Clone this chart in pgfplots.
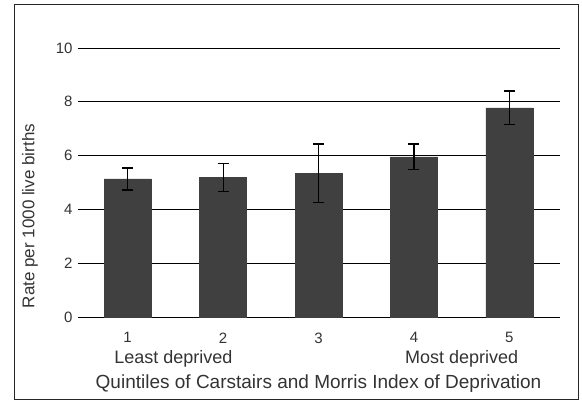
\documentclass[border=0pt]{standalone}
\usepackage{pgfplots}
\pgfplotsset{compat=1.18}
\usepackage{fontspec}
\setmainfont{Liberation Sans}
\definecolor{barc}{HTML}{404040}
\definecolor{txt}{HTML}{333333}
\begin{document}
\begin{tikzpicture}[x=1pt,y=1pt]
\useasboundingbox (-78,-92) rectangle (504,317);
\draw[black!85, line width=1pt] (-63,-83) rectangle (500,312);
\begin{axis}[
  at={(0,0)}, anchor=origin,
  scale only axis, width=482pt, height=269pt,
  xmin=0.48, xmax=5.53, ymin=0, ymax=10,
  xtick={1,2,3,4,5}, ytick={0,2,4,6,8,10},
  yticklabels={0,2,4,6,8,10},
  axis line style={draw=none},
  major tick length=0pt,
  ymajorgrids, grid style={black, line width=0.9pt},
  tick label style={font=\fontsize{15}{17}\selectfont, text=txt},
  /pgf/number format/assume math mode=true,
  yticklabel style={xshift=-2pt},
  xticklabel style={yshift=-12pt},
  clip=false,
]
\addplot[ybar, bar width=47pt, fill=barc, draw=barc, bar shift=0pt,
  error bars/.cd, y dir=both, y explicit,
  error bar style={black, line width=1.1pt},
  error mark options={black, line width=1.1pt, mark size=5.5pt, rotate=90}]
  coordinates {
  (1,5.13) +- (0,0.41)
  (2,5.20) +- (0,0.52)
  (3,5.35) +- (0,1.08)
  (4,5.95) +- (0,0.48)
  (5,7.77) +- (0,0.63)
  };
\node[font=\fontsize{18}{20}\selectfont, text=txt] at (axis cs:1.48,0) [yshift=-42pt] {Least deprived};
\node[font=\fontsize{18}{20}\selectfont, text=txt] at (axis cs:4.5,0) [yshift=-42pt] {Most deprived};
\node[font=\fontsize{19}{21}\selectfont, text=txt] at (axis cs:3.0,0) [yshift=-67pt] {Quintiles of Carstairs and Morris Index of Deprivation};
\node[font=\fontsize{17}{19}\selectfont, text=txt, rotate=90] at (axis description cs:-0.0996,0.375) {Rate per 1000 live births};
\end{axis}
\end{tikzpicture}
\end{document}
